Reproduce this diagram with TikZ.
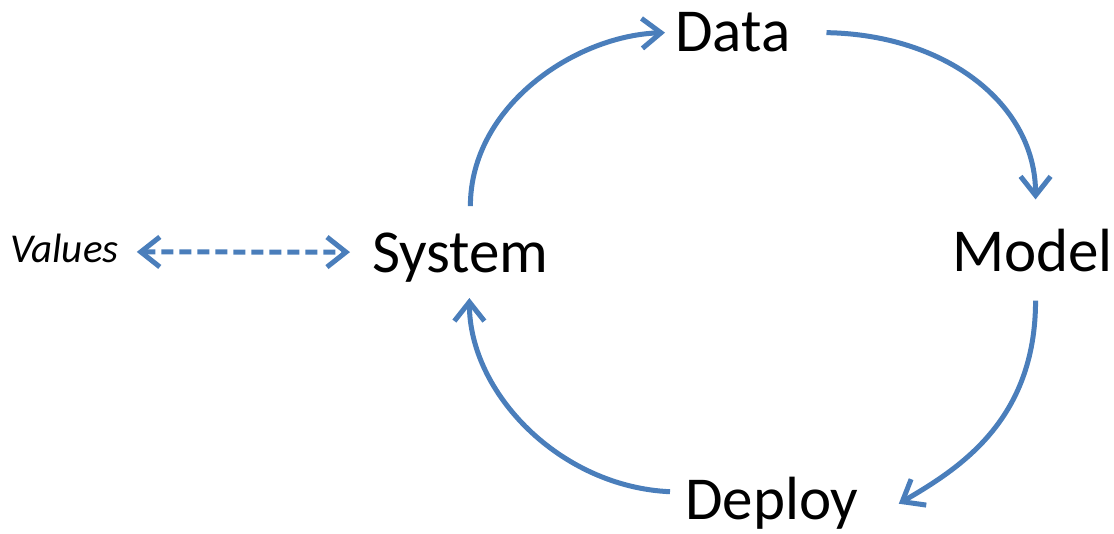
\documentclass[tikz,border=0pt]{standalone}
\usepackage{fontspec}
\setmainfont{Carlito}
\usetikzlibrary{arrows.meta}
\definecolor{flowblue}{HTML}{4A7EBB}
\tikzset{
  stage/.style={inner sep=0, anchor=base west, font=\fontsize{61}{64}\selectfont},
  flow/.style={draw=flowblue, line width=5pt, -{Straight Barb[length=19pt,width=30pt,line width=5pt]}},
}
\begin{document}
\begin{tikzpicture}[x=1pt,y=1pt]
  \useasboundingbox (0,0) rectangle (1114,534);
  \node[stage] (data) at (675,482) {Data};
  \node[stage] (sys) at (372,261) {System};
  \node[stage] (model) at (952,262) {Model};
  \node[stage] (deploy) at (685,14) {Deploy};
  \node[stage, font=\fontsize{41}{43}\selectfont\itshape] (val) at (10,271) {Values};
  % cycle
  \draw[flow] ([xshift=10pt,yshift=27pt]sys.north) .. controls +(0,100) and +(-90,-3) .. ([xshift=-10pt]data.west);
  \draw[flow] ([xshift=36pt]data.east) .. controls +(120,-2) and +(0,95) .. ([xshift=3pt,yshift=30pt]model.north);
  \draw[flow] ([xshift=3pt,yshift=-28pt]model.south) .. controls +(0,-120) and +(60,35) .. ([xshift=40pt,yshift=0pt]deploy.east);
  \draw[flow] ([xshift=-15pt,yshift=12pt]deploy.west) .. controls +(-110,5) and +(0,-95) .. ([xshift=9pt,yshift=-15pt]sys.south);
  \draw[flow, dash pattern=on 12pt off 6pt, {Straight Barb[length=19pt,width=30pt,line width=5pt]}-{Straight Barb[length=19pt,width=30pt,line width=5pt]}] ([xshift=18pt,yshift=-3pt]val.east) -- ([xshift=-22pt,yshift=6pt]sys.west);
\end{tikzpicture}
\end{document}
